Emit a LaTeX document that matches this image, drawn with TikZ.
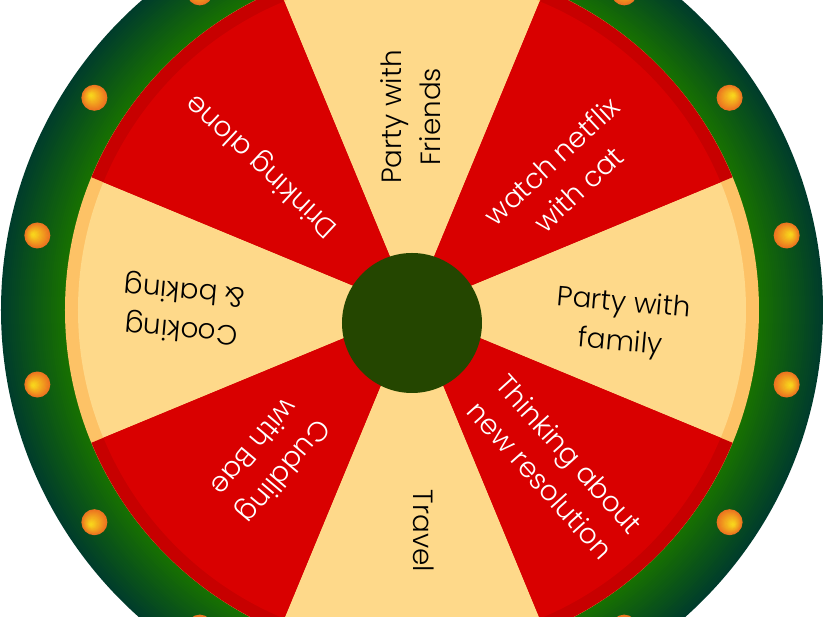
\documentclass[tikz,border=0pt]{standalone}
\usepackage{fontspec}
\IfFontExistsTF{Poppins Light}{\setmainfont{Poppins Light}}{\setmainfont{Poppins}}
\definecolor{ringin}{HTML}{187200}
\definecolor{ringout}{HTML}{003C2C}
\definecolor{redface}{HTML}{D90000}
\definecolor{redband}{HTML}{C70000}
\definecolor{yelface}{HTML}{FED98A}
\definecolor{yelband}{HTML}{FDC266}
\definecolor{hubcol}{HTML}{244600}
\definecolor{dotin}{HTML}{F8D41C}
\definecolor{dotout}{HTML}{EC7320}
\begin{document}
\begin{tikzpicture}[x=1pt,y=1pt,
  lbl/.style={font=\fontsize{27.8}{39}\selectfont, align=center, inner sep=0pt},
  darklbl/.style={lbl, text=black},
  lightlbl/.style={lbl, text=white}]
\useasboundingbox (-412,-307) rectangle (411,310);
\clip (-412,-307) rectangle (411,310);
\fill[white] (-412,-307) rectangle (411,310);
% outer ring gradient
\foreach \i in {0,...,32}{
  \pgfmathsetmacro{\rr}{411-\i*2}
  \pgfmathtruncatemacro{\pp}{100*(1-\i/32)}
  \fill[ringout!\pp!ringin] (0,0) circle (\rr);
}
% yellow base
\fill[yelband] (0,0) circle (347);
\fill[yelface] (0,0) circle (334);
% red segments
\foreach \a in {45,-45,-135,135}{
  \fill[redband] (0,0) -- (\a-22.5:347) arc[start angle=\a-22.5, end angle=\a+22.5, radius=347] -- cycle;
  \fill[redface] (0,0) -- (\a-22.5:334) arc[start angle=\a-22.5, end angle=\a+22.5, radius=334] -- cycle;
}
% dots
\foreach \k in {0,...,15}{
  \pgfmathsetmacro{\ang}{11.25+22.5*\k}
  \foreach \j in {0,...,12}{
    \pgfmathsetmacro{\tt}{\j/12}
    \pgfmathtruncatemacro{\pp}{100*\tt}
    \fill[dotin!\pp!dotout] (\ang:{382+4*\tt}) circle ({13*(1-0.85*\tt)});
  }
}
% hub
\node[circle, fill=hubcol, minimum size=140pt, inner sep=0pt] (hub) at (0,-13) {};
% labels
\node[darklbl, rotate=90] (t1) at (-1,193) {Party with\\Friends};
\node[lightlbl, rotate=43] (t2) at (153,135) {watch netflix\\with cat};
\node[darklbl, rotate=-5] (t3) at (210,-14) {Party with\\family};
\node[lightlbl, rotate=-48] (t4) at (143,-157) {Thinking about\\new resolution};
\node[darklbl, rotate=-90] (t5) at (12,-221) {Travel};
\node[lightlbl, rotate=-130] (t6) at (-142,-150) {Cuddling\\with Bae};
\node[darklbl, rotate=175] (t7) at (-229,1) {Cooking\\\& baking};
\node[lightlbl, rotate=137] (t8) at (-149,145) {Drinking alone};
\end{tikzpicture}
\end{document}
